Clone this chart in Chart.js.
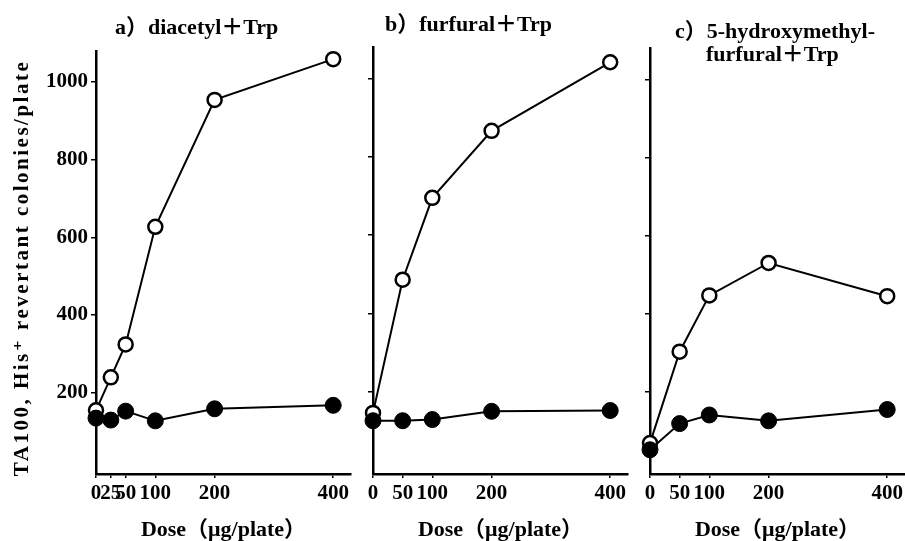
<!DOCTYPE html>
<html>
<head>
<meta charset="utf-8">
<script src="https://cdn.jsdelivr.net/npm/chart.js@4.4.0/dist/chart.umd.min.js"></script>
<style>
  body { margin: 0; background: #fff; }
  #wrap { position: relative; width: 905px; height: 541px; overflow: hidden; background: #fff; }
  #wrap canvas { position: absolute; top: 0; }
</style>
</head>
<body>
<div id="wrap">
  <canvas id="chartA" width="355" height="541" style="left:0"></canvas>
  <canvas id="chartB" width="280" height="541" style="left:355px"></canvas>
  <canvas id="chartC" width="270" height="541" style="left:635px"></canvas>
</div>
<script>
// doses (ug/plate)
const doseA = [0, 25, 50, 100, 200, 400];
const doseBC = [0, 50, 100, 200, 400];

// open circles
const openA = [154, 239, 324, 627, 954, 1059];
const openB = [146, 486, 695, 866, 1041];
const openC = [69, 303, 447, 530, 445];

// filled circles
const filledA = [134, 129, 152, 127, 158, 167];
const filledB = [126, 126, 129, 150, 152];
const filledC = [52, 119, 141, 126, 155];

const yTicks = [200, 400, 600, 800, 1000];
const xTicksA = [0, 25, 50, 100, 200, 400];
const xTicksBC = [0, 50, 100, 200, 400];

const titleA = ['a）diacetyl＋Trp'];
const titleB = ['b）furfural＋Trp'];
const titleC = ['c）5-hydroxymethyl-', 'furfural＋Trp'];
const yLabel = 'TA100, His⁺ revertant colonies/plate';
const xLabel = 'Dose（μg/plate）';

const FONT = '"Liberation Serif", "DejaVu Serif", "Noto Sans CJK JP", serif';

// panel headings and the rotated y label, drawn relative to the chart area
const panelText = {
    id: 'panelText',
    afterDraw(chart, args, opts) {
        const ctx = chart.ctx;
        const area = chart.chartArea;
        ctx.save();
        ctx.fillStyle = '#000';
        ctx.textBaseline = 'middle';
        ctx.font = 'bold 22px ' + FONT;
        opts.lines.forEach((text, i) => {
            const p = opts.pos[i];
            ctx.fillText(text, area.left + p[0], p[1]);
        });
        if (opts.yTitle) {
            ctx.translate(23, 268);
            ctx.rotate(-Math.PI / 2);
            ctx.textAlign = 'center';
            ctx.letterSpacing = '2.5px';
            ctx.font = 'bold 21px ' + FONT;
            ctx.fillText(opts.yTitle, 0, 0);
        }
        ctx.restore();
    }
};

const toPoints = (xs, ys) => xs.map((x, i) => ({ x: x, y: ys[i] }));

function makePanel(id, cfg) {
    return new Chart(document.getElementById(id), {
        type: 'line',
        data: {
            datasets: [
                {
                    data: toPoints(cfg.dose, cfg.filled),
                    borderColor: '#000',
                    borderWidth: 2,
                    pointRadius: 8,
                    pointBackgroundColor: '#000',
                    pointBorderColor: '#000',
                    pointBorderWidth: 1,
                    tension: 0,
                    clip: false
                },
                {
                    data: toPoints(cfg.dose, cfg.open),
                    borderColor: '#000',
                    borderWidth: 2,
                    pointRadius: 7,
                    pointBackgroundColor: '#fff',
                    pointBorderColor: '#000',
                    pointBorderWidth: 2.5,
                    tension: 0,
                    clip: false
                }
            ]
        },
        options: {
            responsive: false,
            animation: false,
            layout: {
                autoPadding: false,
                padding: { top: cfg.top, right: cfg.right, left: 0, bottom: 0 }
            },
            plugins: {
                legend: { display: false },
                tooltip: { enabled: false },
                panelText: { lines: cfg.title, pos: cfg.titlePos, yTitle: cfg.yTitle }
            },
            scales: {
                x: {
                    type: 'linear',
                    min: 0,
                    max: 430,
                    afterBuildTicks: s => { s.ticks = cfg.xTicks.map(v => ({ value: v })); },
                    afterFit: s => {
                        s.height = 67;
                        s.paddingLeft = 0;
                        s.paddingRight = 0;
                    },
                    grid: { drawOnChartArea: false, drawTicks: true, tickLength: 4, color: '#000', lineWidth: 1.5 },
                    border: { display: true, color: '#000', width: 2.5 },
                    ticks: {
                        autoSkip: false,
                        maxRotation: 0,
                        color: '#000',
                        padding: 3,
                        font: { family: FONT, size: 21, weight: 'bold' }
                    },
                    title: {
                        display: true,
                        text: xLabel,
                        color: '#000',
                        padding: { top: 0, bottom: -3 },
                        font: { family: FONT, size: 22, weight: 'bold' }
                    }
                },
                y: {
                    min: -10,
                    max: 1080,
                    afterBuildTicks: s => { s.ticks = yTicks.map(v => ({ value: v })); },
                    afterFit: s => { s.width = cfg.yWidth; },
                    grid: { drawOnChartArea: false, drawTicks: true, tickLength: 5, color: '#000', lineWidth: 1.5 },
                    border: { display: true, color: '#000', width: 2.5 },
                    ticks: {
                        display: cfg.showY,
                        color: '#000',
                        padding: 3,
                        callback: v => String(v),
                        font: { family: FONT, size: 21, weight: 'bold' }
                    }
                }
            }
        },
        plugins: [panelText]
    });
}

makePanel('chartA', {
    dose: doseA, open: openA, filled: filledA, xTicks: xTicksA,
    top: 51, right: 4, yWidth: 96, showY: true,
    title: titleA, titlePos: [[19, 28]], yTitle: yLabel
});
makePanel('chartB', {
    dose: doseBC, open: openB, filled: filledB, xTicks: xTicksBC,
    top: 47, right: 7, yWidth: 18, showY: false,
    title: titleB, titlePos: [[12, 25]]
});
makePanel('chartC', {
    dose: doseBC, open: openC, filled: filledC, xTicks: xTicksBC,
    top: 48, right: 0, yWidth: 15, showY: false,
    title: titleC, titlePos: [[25, 32], [56, 55]]
});
</script>
</body>
</html>
